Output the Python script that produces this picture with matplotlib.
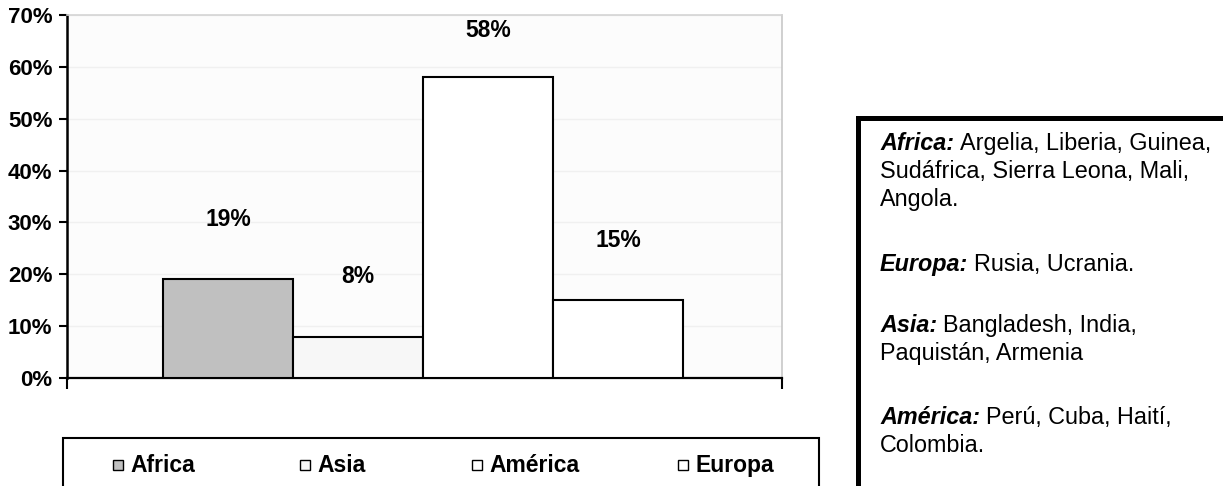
import matplotlib
matplotlib.use('Agg')
import matplotlib.pyplot as plt
from matplotlib.patches import Rectangle
from matplotlib.text import Annotation

# ---------------- data ----------------
categories = ['Africa', 'Asia', 'América', 'Europa']
values = [19, 8, 58, 15]
value_labels = ['19%', '8%', '58%', '15%']
bar_colors = ['#C0C0C0', '#F7F7F7', '#FFFFFF', '#FFFFFF']
y_ticks = [0, 10, 20, 30, 40, 50, 60, 70]
y_tick_labels = ['0%', '10%', '20%', '30%', '40%', '50%', '60%', '70%']
note_regions = ['Africa:', 'Europa:', 'Asia:', 'América:']
note_lines = [
    ['Argelia, Liberia, Guinea,', 'Sudáfrica, Sierra Leona, Mali,', 'Angola.'],
    ['Rusia, Ucrania.'],
    ['Bangladesh, India,', 'Paquistán, Armenia'],
    ['Perú, Cuba, Haití,', 'Colombia.'],
]

# ---------------- layout ----------------
W, H = 1223, 486
plt.rcParams['font.family'] = ['Liberation Sans', 'DejaVu Sans']

def fx(x):
    return x / W

def fy(y):
    return 1 - y / H

fig = plt.figure(figsize=(W / 100, H / 100), dpi=100)
fig.patch.set_facecolor('white')

ax = fig.add_axes([fx(67), fy(378), (782 - 67) / W, (378 - 15) / H])
ax.set_facecolor('#FCFCFC')

x = list(range(len(categories)))
ax.bar(x, values, width=1.0, color=bar_colors, edgecolor='black',
       linewidth=1.5, zorder=3)

xl = (-1.238, 4.262)
ax.set_xlim(*xl)
ax.set_ylim(0, 70)

ax.set_yticks(y_ticks, y_tick_labels, fontweight='bold', fontsize=16)
ax.set_xticks(list(xl), ['', ''])
ax.tick_params(axis='y', length=5.5, width=1.5, pad=5, direction='out')
ax.tick_params(axis='x', length=8, width=1.5, direction='out')
ax.yaxis.grid(True, color='#F0F0F0', linewidth=1.0, zorder=0)
ax.set_axisbelow(True)

ax.spines['left'].set_linewidth(1.8)
ax.spines['bottom'].set_linewidth(1.6)
ax.spines['top'].set_color('#D4D4D4')
ax.spines['top'].set_linewidth(1.2)
ax.spines['right'].set_color('#C8C8C8')
ax.spines['right'].set_linewidth(1.2)

for i, (v, lab) in enumerate(zip(values, value_labels)):
    ax.text(i, min(v + 11.5, 67), lab, ha='center', va='center',
            fontweight='bold', fontsize=16.5)

# ---------------- bottom legend ----------------
fig.add_artist(Rectangle((fx(63), -0.1), (819 - 63) / W, fy(438) + 0.1,
                         transform=fig.transFigure, fill=False,
                         edgecolor='black', linewidth=1.5))
sq_left = [113, 300, 472, 678]
sq = 10
leg_y = 465
for cat, col, sx in zip(categories, bar_colors, sq_left):
    fig.add_artist(Rectangle((fx(sx), fy(leg_y + sq / 2)), sq / W, sq / H,
                             transform=fig.transFigure, facecolor=col,
                             edgecolor='black', linewidth=1.0))
    fig.text(fx(sx + sq + 7), fy(leg_y), cat, ha='left', va='center',
             fontweight='bold', fontsize=16.5)

# ---------------- right note box ----------------
fig.add_artist(Rectangle((fx(857.5), -0.1), 1.0, fy(117.5) + 0.1,
                         transform=fig.transFigure, fill=False,
                         edgecolor='black', linewidth=3.6))

para_baselines = [150, 271, 332, 424]
line_step = 28
text_x = 880
for region, lines, base in zip(note_regions, note_lines, para_baselines):
    pre = fig.text(fx(text_x), fy(base), region, ha='left', va='baseline',
                   fontweight='bold', fontstyle='italic', fontsize=16.8)
    ann = Annotation(lines[0], xy=(1, fy(base)),
                     xycoords=(pre, 'figure fraction'),
                     xytext=(4, 0), textcoords='offset points',
                     ha='left', va='baseline', fontsize=16.8)
    fig.add_artist(ann)
    for k, ln in enumerate(lines[1:], start=1):
        fig.text(fx(text_x), fy(base + k * line_step), ln, ha='left',
                 va='baseline', fontsize=16.8)

fig.savefig('out.png', dpi=100)
